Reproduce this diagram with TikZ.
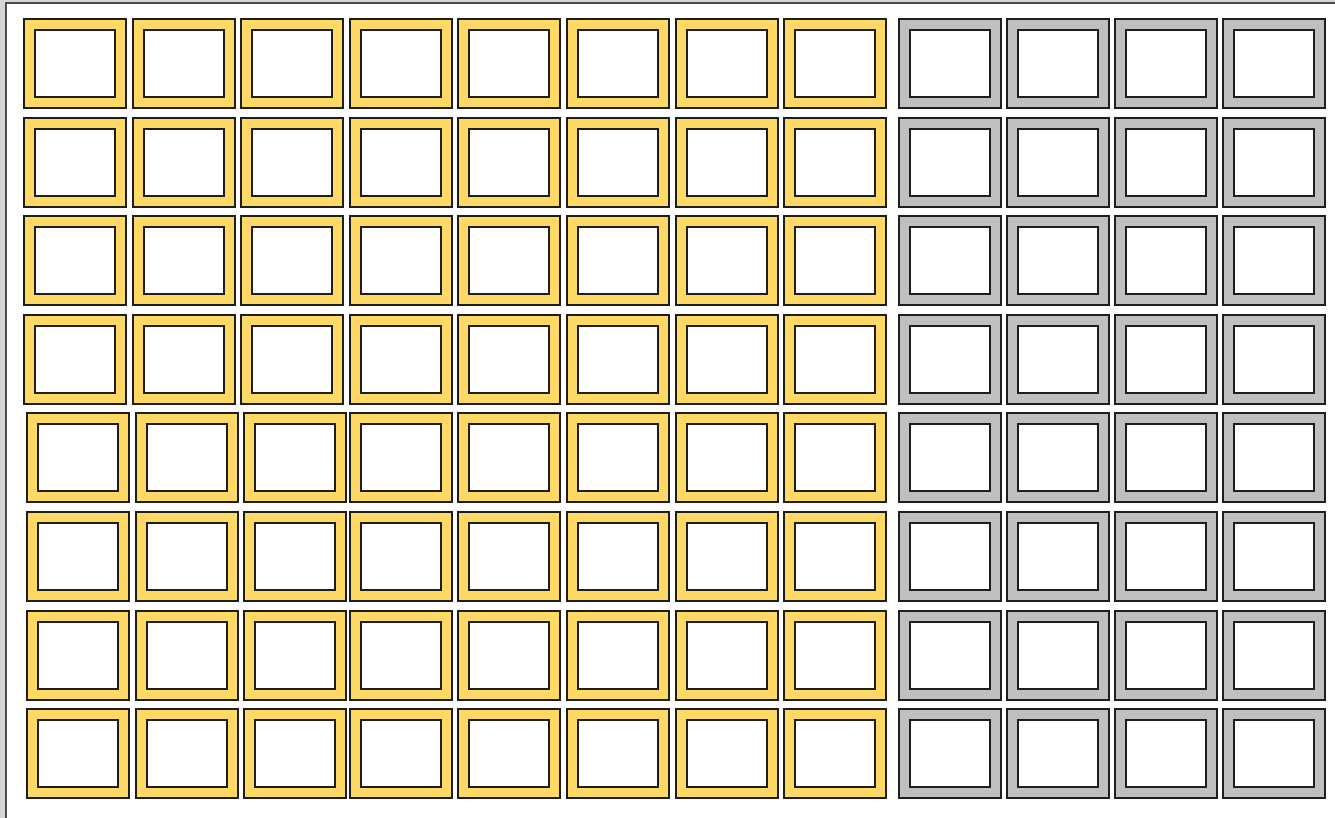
\documentclass[tikz,border=0pt]{standalone}
\definecolor{cellyellow}{HTML}{FFD966}
\definecolor{cellgray}{HTML}{BFBFBF}
\definecolor{edgegray}{HTML}{1E1E1E}
\definecolor{pagegray}{HTML}{D6D6D6}
\begin{document}
\begin{tikzpicture}[x=0.5pt,y=-0.5pt,
    cell/.style={draw=edgegray,line width=1pt,double distance=4.5pt,fill=white,
      minimum width=45.5pt,minimum height=39pt,inner sep=0pt,outer sep=0pt},
    ycell/.style={cell,double=cellyellow},
    gcell/.style={cell,double=cellgray}]
  \clip (0,0) rectangle (1335,818);
  \fill[pagegray] (0,0) rectangle (1335,818);
  \draw[fill=white,draw=black!70,line width=0.6pt] (6,3) rectangle (1345,830);
  % yellow block
  \foreach \r in {0,...,7}
    \foreach \c in {0,...,7} {
      \pgfmathsetmacro{\dx}{(\r>3)*(\c<3)*3}
      \node[ycell] (y-\r-\c) at (75+108.6*\c+\dx,63.5+98.6*\r) {};
    }
  % gray block
  \foreach \r in {0,...,7}
    \foreach \c in {0,...,3}
      \node[gcell] (g-\r-\c) at (950+108*\c,63.5+98.6*\r) {};
\end{tikzpicture}
\end{document}
